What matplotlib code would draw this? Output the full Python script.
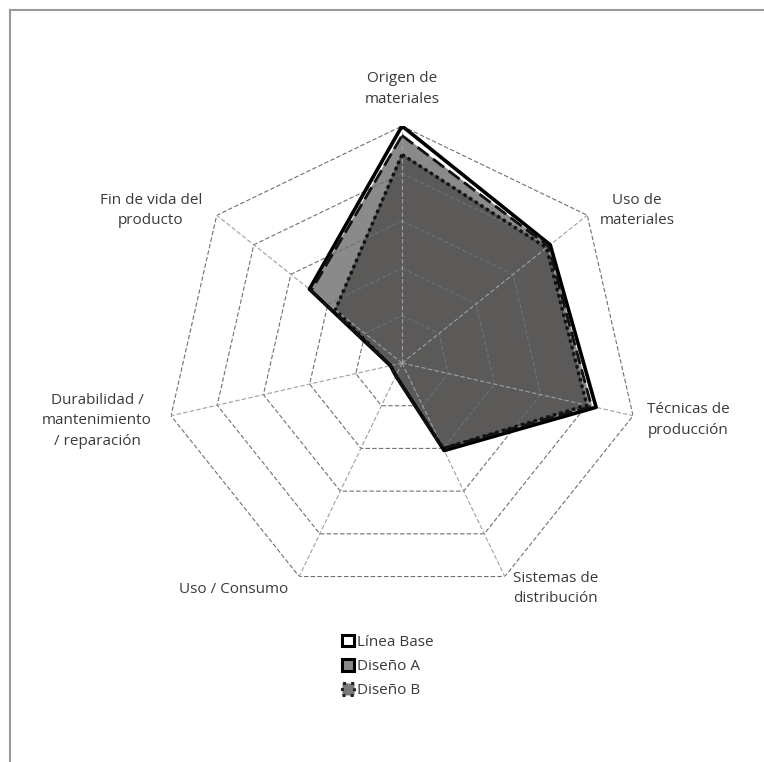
import numpy as np
import matplotlib
matplotlib.use("Agg")
import matplotlib.pyplot as plt
from matplotlib.patches import Patch
from matplotlib.lines import Line2D

# === DATA ===
CATEGORIES = [
    "Origen de\nmateriales",
    "Uso de\nmateriales",
    "Técnicas de\nproducción",
    "Sistemas de\ndistribución",
    "Uso / Consumo",
    "Durabilidad /\nmantenimiento\n/ reparación",
    "Fin de vida del\nproducto",
]
LINEA_BASE = [5.0, 4.0, 4.2, 2.05, 0.3, 0.25, 2.5]
DISENO_A = [4.8, 3.95, 4.1, 2.0, 0.3, 0.25, 2.45]
DISENO_B = [4.4, 3.9, 4.0, 2.0, 0.3, 0.25, 1.8]
SERIES_NAMES = ["Línea Base", "Diseño A", "Diseño B"]
RINGS = [1, 2, 3, 4, 5]

# label offsets in pixels (dx, dy) from each outer vertex
LABEL_OFFSETS = [(0, 37), (50, 5), (55, -4), (51, -12), (-66, -13), (-74, -5), (-66, 5)]

plt.rcParams["font.family"] = ["Open Sans", "DejaVu Sans"]
TEXT_COLOR = "#3a3a3a"

fig = plt.figure(figsize=(7.64, 7.62), dpi=100)
ax = fig.add_axes([0.216, 0.2126, 0.6204, 0.622], projection="polar")
ax.set_theta_zero_location("N")
ax.set_theta_direction(-1)
ax.set_ylim(0, 5)
ax.grid(False)
ax.spines["polar"].set_visible(False)
ax.set_xticks([])
ax.set_yticks([])
ax.patch.set_alpha(0)

n = len(CATEGORIES)
theta = np.linspace(0, 2 * np.pi, n, endpoint=False)
closed = np.append(theta, theta[0])


def close(vals):
    return np.append(vals, vals[0])


# grid: rings and spokes
for r in RINGS:
    ax.plot(closed, close([r] * n), color="#707070", lw=0.8,
            linestyle=(0, (4, 2)), zorder=3)
for t in theta:
    ax.plot([t, t], [0, RINGS[-1]], color="#a0a0a0", lw=0.8,
            linestyle=(0, (4, 2)), zorder=3)

# series
ax.fill(closed, close(DISENO_A), color="#8a8a8a", zorder=1)
ax.fill(closed, close(DISENO_B), color="#2e2b29", alpha=0.5, zorder=2)
ax.plot(closed, close(LINEA_BASE), color="black", lw=2.6, zorder=4)
ax.plot(closed, close(DISENO_A), color="#111111", lw=2.0,
        linestyle=(0, (5, 2)), zorder=4)
ax.plot(closed, close(DISENO_B), color="#111111", lw=2.4,
        linestyle=(0, (1, 1)), zorder=4)

# axis labels
for t, lab, (dx, dy) in zip(theta, CATEGORIES, LABEL_OFFSETS):
    ax.annotate(lab, xy=(t, RINGS[-1]), xytext=(dx, dy),
                textcoords="offset pixels", ha="center", va="center",
                fontsize=11, color=TEXT_COLOR, linespacing=1.5,
                annotation_clip=False)

# legend
handles = [
    Patch(facecolor="white", edgecolor="black", linewidth=2.2),
    Patch(facecolor="#8a8a8a", edgecolor="black", linewidth=2.2),
    Patch(facecolor="#7a7a7a", edgecolor="#222222", linewidth=2.2, linestyle=":"),
]
fig.legend(handles, SERIES_NAMES, loc="center", bbox_to_anchor=(0.508, 0.125),
           frameon=False, fontsize=11, handlelength=0.75, handleheight=0.75,
           handletextpad=0.25, labelspacing=0.6, labelcolor=TEXT_COLOR)

# chart area border (top and left)
fig.add_artist(Line2D([0.0131, 1.0], [0.987, 0.987], color="#9a9a9a", lw=1.5,
                      transform=fig.transFigure))
fig.add_artist(Line2D([0.0131, 0.0131], [0.0, 0.987], color="#9a9a9a", lw=1.5,
                      transform=fig.transFigure))

fig.savefig("out.png", dpi=100)
